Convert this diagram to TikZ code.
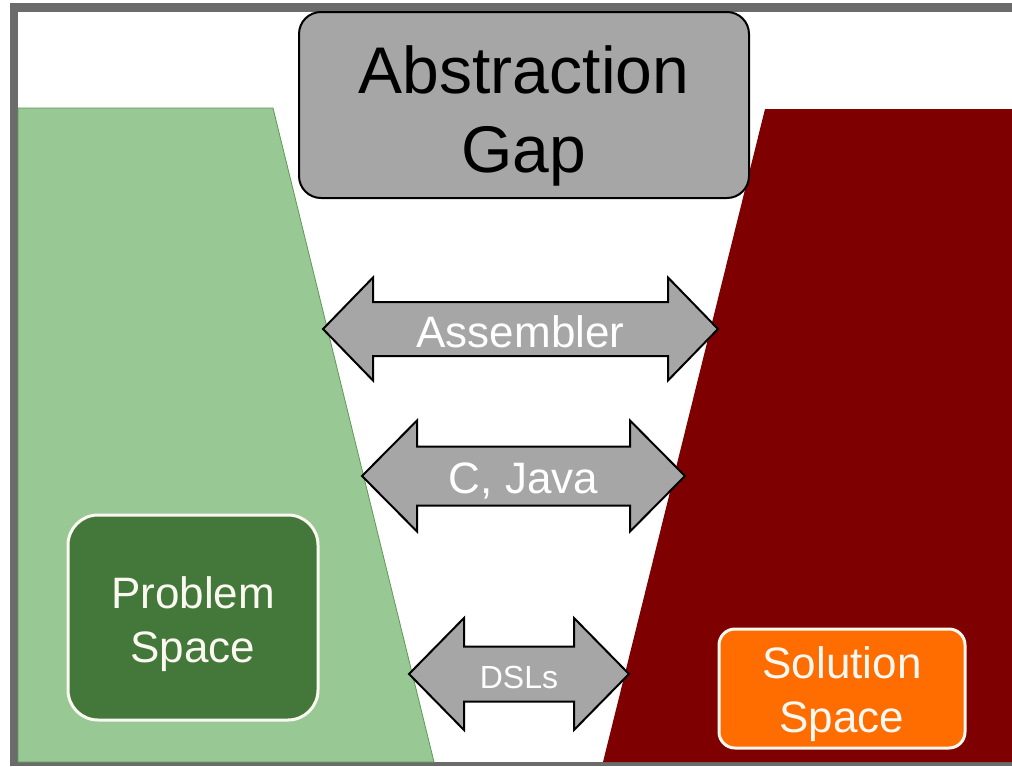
\documentclass[tikz,border=0pt]{standalone}
\usepackage{fontspec}
\setmainfont{Liberation Sans}
\definecolor{framegray}{HTML}{6B6B6B}
\definecolor{probfill}{HTML}{98C893}
\definecolor{probedge}{HTML}{5E9A55}
\definecolor{probbox}{HTML}{43783A}
\definecolor{solfill}{HTML}{7F0000}
\definecolor{solbox}{HTML}{FF6C00}
\definecolor{boxgray}{HTML}{A6A6A6}
\definecolor{cream}{HTML}{FAF8F0}
\newcommand\gaparrow[6]{%
  \draw[arrshape] (#1,#3) -- ({#1+#4},{#3-#5}) -- ({#1+#4},{#3-#6}) -- ({#2-#4},{#3-#6})
    -- ({#2-#4},{#3-#5}) -- (#2,#3) -- ({#2-#4},{#3+#5}) -- ({#2-#4},{#3+#6})
    -- ({#1+#4},{#3+#6}) -- ({#1+#4},{#3+#5}) -- cycle;}
\begin{document}
\begin{tikzpicture}[x=1pt,y=-1pt,
  arrshape/.style={fill=boxgray,draw=black,line width=2pt,line join=miter},
  arrlabel/.style={text=white,inner sep=0pt,text height=#1,text depth=0pt},
  gapbox/.style={draw=black,line width=2pt,fill=boxgray,rounded corners=22pt,
    minimum width=450pt,minimum height=186pt,inner sep=0pt,align=center,
    font=\fontsize{66}{79}\selectfont,text height=148pt,text depth=14pt},
  spacebox/.style={draw=cream,line width=3pt,text=cream,align=center,inner sep=0pt,
    font=\fontsize{44}{54}\selectfont,text depth=9pt}
]
\useasboundingbox (0,0) rectangle (1012,766);
% frame
\fill[framegray] (10,3) rectangle (1012,766);
\fill[white] (18,12) rectangle (1012,762);
% problem and solution areas
\filldraw[fill=probfill,draw=probedge,line width=0.8pt] (18,108) -- (273,108) -- (434,762) -- (18,762) -- cycle;
\fill[solfill] (765,109) -- (1012,109) -- (1012,762) -- (603,762) -- cycle;
% title box
\node[gapbox] (gap) at (524,105) {Abstraction\\Gap};
% arrows
\gaparrow{323}{718}{329}{50}{51.5}{27}
\node[arrlabel=32pt,font=\fontsize{44}{54}\selectfont] (asm) at (520.5,331) {Assembler};
\gaparrow{362}{685}{476}{55}{55.5}{29.5}
\node[arrlabel=32pt,font=\fontsize{44}{54}\selectfont] (cjava) at (523.5,477) {C, Java};
\gaparrow{409}{629}{674}{55}{56}{27.5}
\node[arrlabel=23pt,font=\fontsize{32}{38}\selectfont] (dsl) at (519,676.5) {DSLs};
% space boxes
\node[spacebox,fill=probbox,rounded corners=30pt,minimum width=250pt,minimum height=205pt,text height=98pt] (prob) at (193,617.5) {Problem\\Space};
\node[spacebox,fill=solbox,rounded corners=16pt,minimum width=246pt,minimum height=119pt,text height=96pt] (sol) at (842,688.5) {Solution\\Space};
\end{tikzpicture}
\end{document}
